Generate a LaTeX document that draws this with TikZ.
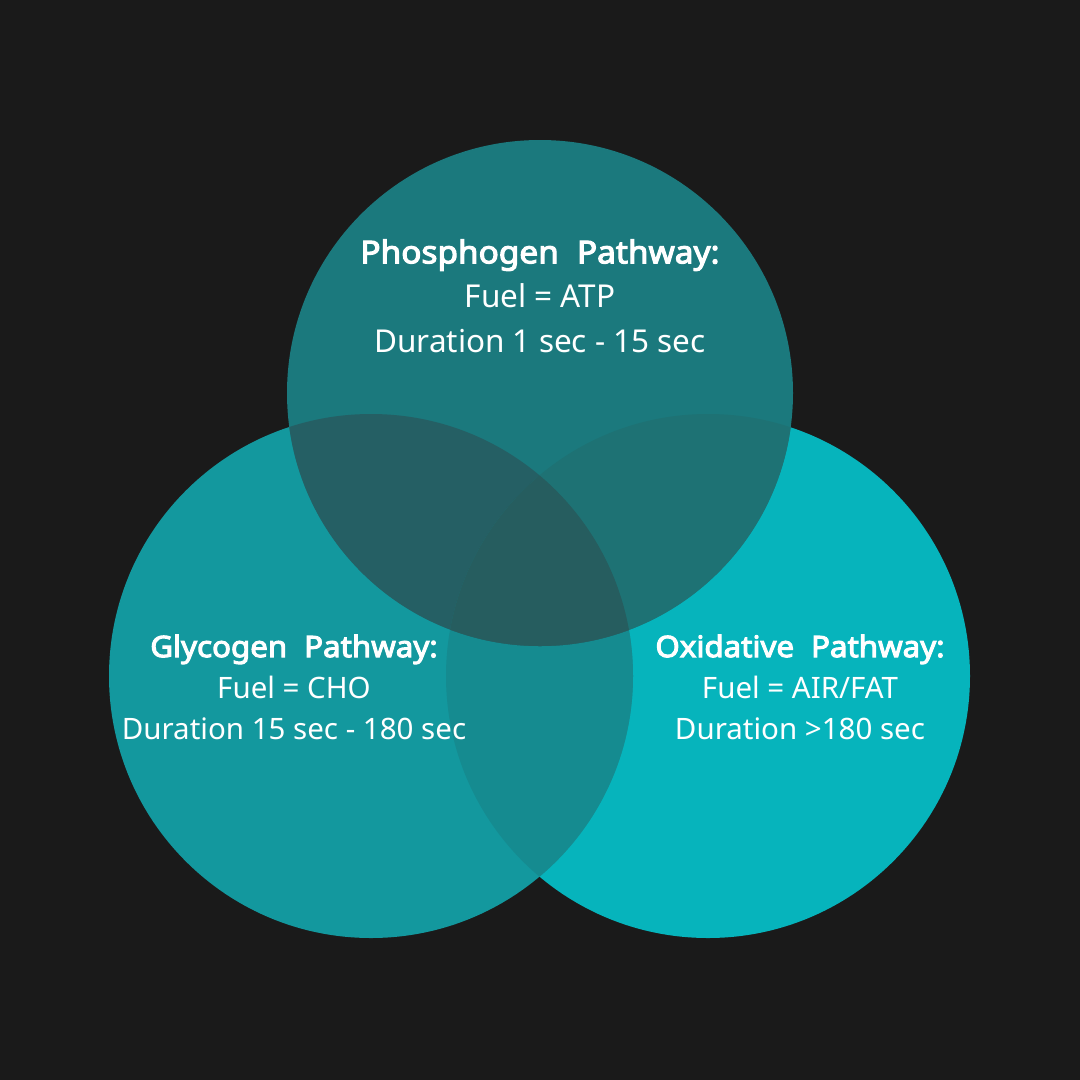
\documentclass[tikz,border=0pt]{standalone}
\usepackage{fontspec}
\setmainfont{Noto Sans}[BoldFont={Noto Sans}, BoldFeatures={FakeBold=3.5, FakeStretch=1.06}]
\definecolor{bg}{HTML}{1A1A1A}
\definecolor{cR}{HTML}{06B4BC}
\definecolor{cL}{HTML}{13989E}
\definecolor{cLR}{HTML}{158B90}
\definecolor{cT}{HTML}{1B797D}
\definecolor{cTL}{HTML}{255F64}
\definecolor{cTR}{HTML}{1E7274}
\definecolor{cTLR}{HTML}{265D5F}
\tikzset{
  lbl/.style={text=white, align=center, inner sep=0pt},
  toplbl/.style={lbl, font=\fontsize{31.5}{44.5}\selectfont},
  botlbl/.style={lbl, font=\fontsize{29.5}{41}\selectfont},
}
\newcommand{\topc}{(540,393) circle[radius=253]}
\newcommand{\leftc}{(371,676) circle[radius=262]}
\newcommand{\rightc}{(708,676) circle[radius=262]}
\begin{document}
\begin{tikzpicture}[x=1pt,y=-1pt]
\fill[bg] (0,0) rectangle (1080,1080);
\useasboundingbox (0,0) rectangle (1080,1080);
\fill[cR] \rightc;
\fill[cL] \leftc;
\begin{scope}\clip \leftc; \fill[cLR] \rightc; \end{scope}
\fill[cT] \topc;
\begin{scope}\clip \topc; \fill[cTL] \leftc; \fill[cTR] \rightc; \clip \leftc; \fill[cTLR] \rightc; \end{scope}
\node[toplbl] (phos) at (540,296) {\textbf{Phosphogen\hspace{0.3em} Pathway:}\\Fuel = ATP\\Duration 1 sec - 15 sec};
\node[botlbl] (glyc) at (294,687) {\textbf{Glycogen\hspace{0.3em} Pathway:}\\Fuel = CHO\\Duration 15 sec - 180 sec};
\node[botlbl] (oxid) at (800,687) {\textbf{Oxidative\hspace{0.3em} Pathway:}\\Fuel = AIR/FAT\\Duration >180 sec};
\end{tikzpicture}
\end{document}
